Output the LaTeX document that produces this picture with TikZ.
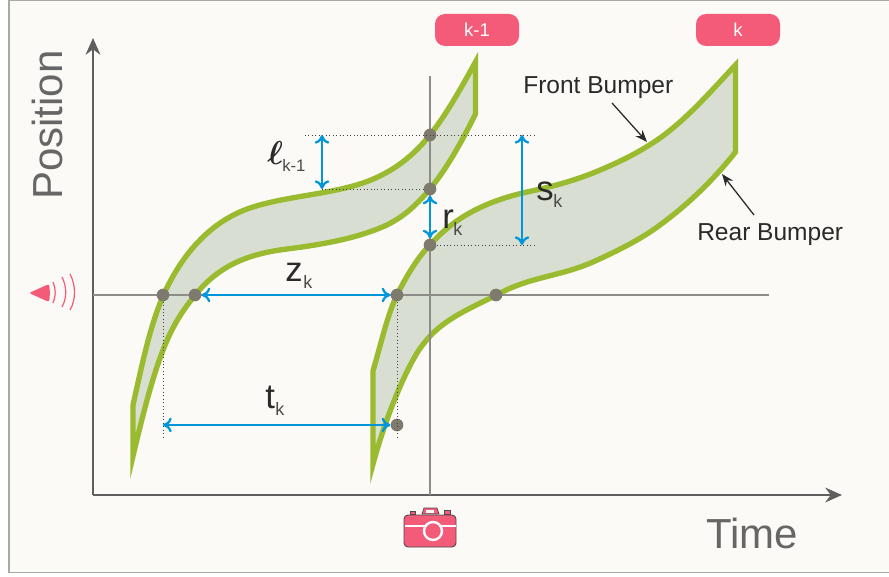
\documentclass[tikz,border=0pt]{standalone}
\usepackage{fontspec}
\setmainfont{Liberation Sans}
\usetikzlibrary{arrows.meta}
\definecolor{bgc}{HTML}{FBFAF6}
\definecolor{framec}{HTML}{A9A9A5}
\definecolor{greenc}{HTML}{9ABB2F}
\definecolor{fillc}{HTML}{D8DFD2}
\definecolor{pink}{HTML}{F45B78}
\definecolor{dotc}{HTML}{7F7A6E}
\definecolor{bluec}{HTML}{0096D9}
\definecolor{axisc}{HTML}{5F5F5F}
\definecolor{thinc}{HTML}{8C8C88}
\definecolor{txtc}{HTML}{2A2A2A}
\definecolor{labelc}{HTML}{666666}
\newcommand{\fs}[1]{\fontsize{#1}{#1}\selectfont}
\tikzset{
  car/.style={draw=greenc,fill=fillc,line width=4pt,miter limit=20},
  pill/.style={fill=pink,rounded corners=7.5pt,minimum width=63pt,minimum height=24pt,inner sep=0pt,text=white,font=\fs{14}},
  pt/.style={circle,fill=dotc,minimum size=9.5pt,inner sep=0pt},
  dim/.style={draw=bluec,line width=1.7pt,{To[length=6.5pt,width=11pt,line width=1.7pt]}-{To[length=6.5pt,width=11pt,line width=1.7pt]}},
  axis/.style={draw=axisc,line width=1.9pt,-{Stealth[length=12.5pt,width=11pt]}},
  thinl/.style={draw=thinc,line width=0.9pt},
  hair/.style={draw=black!75,line width=0.6pt,dotted},
  note/.style={draw=txtc,line width=0.95pt,-{Stealth[length=9pt,width=7pt]}},
  lab/.style={text=txtc,font=\fs{26},inner sep=0pt,anchor=base west},
  sublab/.style={text=txtc!85,font=\fs{13.5},inner sep=0pt,anchor=base west},
  notelab/.style={text=txtc,font=\fs{18.4},inner sep=0pt},
  big/.style={text=labelc,font=\fs{31.5},inner sep=0pt},
  horn/.style={draw=pink,line width=0.9pt},
}
\begin{document}
\begin{tikzpicture}[x=0.75pt,y=-0.75pt]
\useasboundingbox (0,0) rectangle (889,577);
\fill[white] (0,0) rectangle (889,577);
\fill[bgc] (9,0.5) rectangle (889,572.5);
\draw[draw=framec,line width=0.9pt] (889,0.5) -- (9,0.5) -- (9,572.5) -- (889,572.5);
% cars
\draw[car] (133,405) .. controls (142,365) and (150,325) .. (164,294)
  .. controls (178,263) and (205,222) .. (253,207)
  .. controls (285,197) and (320,195) .. (353,186)
  .. controls (386,177) and (410,160) .. (430,135)
  .. controls (446,115) and (460,90) .. (475.5,62)
  -- (475.5,114)
  .. controls (460,145) and (447,168) .. (430,189)
  .. controls (415,207) and (400,220) .. (380,228)
  .. controls (360,236) and (335,243) .. (287,249)
  .. controls (255,253) and (222,262) .. (196,294)
  .. controls (170,326) and (158,350) .. (133,456) -- cycle;
\draw[car] (373,371) .. controls (382,340) and (388,313) .. (397,295)
  .. controls (407,275) and (418,257) .. (430,245)
  .. controls (447,226) and (473,204) .. (527,192)
  .. controls (550,187) and (570,182) .. (593,173)
  .. controls (620,162) and (640,152) .. (660,138)
  .. controls (688,118) and (712,90) .. (735.5,65)
  -- (735.5,152)
  .. controls (715,178) and (690,203) .. (660,225)
  .. controls (640,240) and (615,252) .. (593,262)
  .. controls (570,272) and (550,275) .. (527,282)
  .. controls (515,286) and (505,290) .. (497,295)
  .. controls (455,315) and (435,325) .. (417,353)
  .. controls (402,378) and (385,420) .. (373,464) -- cycle;
% axes
\coordinate (o) at (93,495);
\coordinate (yend) at (93,38);
\coordinate (xend) at (842,495);
\draw[axis] (o) -- (yend);
\draw[axis] (o) -- (xend);
\coordinate (hl) at (93,295);
\coordinate (hr) at (769,295);
\coordinate (vt) at (430,76);
\coordinate (vb) at (430,495);
\draw[thinl] (hl) -- (hr);
\draw[thinl] (vt) -- (vb);
% points
\node[pt] (a1) at (163,295) {};
\node[pt] (a2) at (195,295) {};
\node[pt] (a3) at (397,295) {};
\node[pt] (a4) at (496,295) {};
\node[pt] (b1) at (430,135) {};
\node[pt] (b2) at (430,189) {};
\node[pt] (b3) at (430,245) {};
\node[pt] (c1) at (397,425) {};
% hairlines
\coordinate (d1) at (305,135);
\coordinate (d2) at (535,135);
\coordinate (d3) at (322,189);
\coordinate (d4) at (535,245);
\coordinate (d5) at (163,437);
\coordinate (d6) at (397,437);
\coordinate (c0) at (163,425);
\coordinate (l1) at (322,135);
\coordinate (s1) at (522,135);
\coordinate (s2) at (522,245);
\draw[hair] (d1) -- (d2);
\draw[hair] (d3) -- (b2);
\draw[hair] (b3) -- (d4);
\draw[hair] (a1) -- (d5);
\draw[hair] (a3) -- (d6);
% dimensions
\draw[dim] (l1) -- (d3);
\draw[dim] (b2) -- (b3);
\draw[dim] (s1) -- (s2);
\draw[dim] (a2) -- (a3);
\draw[dim] (c0) -- (c1);
% labels
\node[lab] (ll) at (267,165) {\hbox{\fs{24.88}\boldmath$\ell$}};
\node[sublab,font=\fs{12.5}] (lls) at (282,172) {k-1};
\node[lab] (lr) at (442,229) {r};
\node[sublab] (lrs) at (453,236) {k};
\node[lab] (ls) at (536,201) {s};
\node[sublab] (lss) at (553,208) {k};
\node[lab] (lz) at (285,282) {z};
\node[sublab] (lzs) at (303,289) {k};
\node[lab] (lt) at (265,408) {t};
\node[sublab] (lts) at (275,415) {k};
\node[notelab,anchor=west] (fb) at (523,87.5) {Front Bumper};
\node[notelab,anchor=west] (rb) at (697,234.5) {Rear Bumper};
\coordinate (f0) at (612,103);
\coordinate (f1) at (647,142);
\coordinate (r0) at (754,215);
\coordinate (r1) at (722,174);
\draw[note] (f0) -- (f1);
\draw[note] (r0) -- (r1);
\node[big,rotate=90] (pos) at (47,125) {Position};
\node[big] (tim) at (752,533) {Time};
\node[pill] (p1) at (477,30) {k-1};
\node[pill] (p2) at (738,30) {k};
% horn
\fill[pink,rounded corners=1.5pt] (29,293) -- (49,284) .. controls (50,290) and (50,296) .. (49,302) -- cycle;
\draw[horn] (53,282) .. controls (56,289) and (56,296) .. (53,303);
\draw[horn] (62,277) .. controls (67,287) and (67,298) .. (62,307);
\draw[horn] (70,274) .. controls (76,285) and (76,300) .. (70,310);
% camera
\draw[draw=black!70,fill=pink,line width=0.5pt] (422,514) -- (424,508) -- (437,508) -- (439,514) -- cycle;
\draw[draw=black!70,fill=pink,line width=0.5pt] (410,514) -- (410,511) -- (415,511) -- (415,514) -- cycle;
\draw[draw=black!70,fill=pink,line width=0.5pt] (444,514) -- (444,510) -- (450,510) -- (450,514) -- cycle;
\fill[white] (426,509.5) rectangle (434,512.5);
\draw[draw=black!70,fill=pink,line width=0.7pt,rounded corners=3pt] (404,515) rectangle (456,547);
\draw[white,line width=1.2pt] (404.5,526) -- (455.5,526);
\draw[white,fill=pink,line width=1.8pt] (433,531) circle (9);
\end{tikzpicture}
\end{document}
